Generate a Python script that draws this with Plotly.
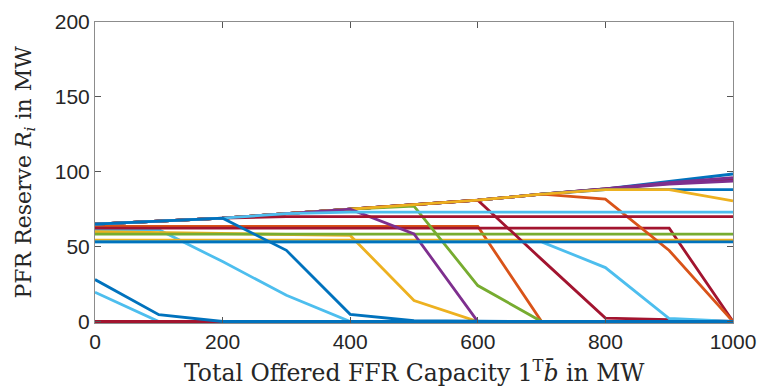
import plotly.graph_objects as go

x = [0, 100, 200, 300, 400, 500, 600, 700, 800, 900, 1000]

BLUE = "#0072BD"; ORANGE = "#D95319"; YELLOW = "#EDB120"; PURPLE = "#7E2F8E"
GREEN = "#77AC30"; LBLUE = "#4DBEEE"; DRED = "#A2142F"

# series values (MW), sampled at x
blue_top    = [65, 67, 69, 72, 75, 78, 81, 85, 88.5, 93.5, 98.5]
dred_top    = [65, 67, 69, 72, 75, 78, 81, 85, 88.5, 92.3, 95.0]
purple_top2 = [65, 67, 69, 72, 75, 78, 81, 85, 88.5, 91.8, 93.8]
purple_top  = [65, 67, 69, 72, 75, 78, 81, 85, 88.5, 92.8, 96.0]
blue_88     = [65, 67, 69, 72, 75, 78, 81, 85, 88, 88, 88]
orange_A    = [65, 67, 69, 72, 75, 78, 81, 85, 81.7, 47.4, 0]
dred_A      = [65, 67, 69, 72, 75, 78, 81, 41.5, 2.3, 1.2, 0]
green_B     = [65, 67, 69, 72, 75, 77, 24, 0, 0, 0, 0]
yellow_A    = [65, 67, 69, 72, 75, 78, 81, 85, 88, 88, 80.5]
purple_A    = [65, 67, 69, 72, 75, 58.5, 0, 0, 0, 0, 0]
dred_70     = [65, 67, 69, 70, 70, 70, 70, 70, 70, 70, 70]
lblue_73    = [65, 67, 69, 72, 73, 73, 73, 73, 73, 73, 73]
blue_A      = [65, 67, 69, 47.5, 4.8, 0.5, 0, 0, 0, 0, 0]

lblue_B     = [19.5, 0, 0, 0, 0, 0, 0, 0, 0, 0, 0]
dred_C      = [0, 0, 0, 0, 0, 0, 0, 0, 0, 0, 0]
blue_B      = [28, 4.5, 0, 0, 0, 0, 0, 0, 0, 0, 0]
lblue_C     = [53.2, 53.2, 53.2, 53.2, 53.2, 53.2, 53.2, 53.2, 36, 2, 0]
orange_B    = [63.5, 63.5, 63.5, 63.5, 63.5, 63.5, 63.5, 0, 0, 0, 0]
lblue_A     = [61.3, 61.3, 40, 17.5, 0, 0, 0, 0, 0, 0, 0]
dred_B      = [62.3, 62.3, 62.3, 62.3, 62.3, 62.3, 62.3, 62.3, 62.3, 62.3, 0]
yellow_B    = [60, 59.5, 59, 58.5, 57.5, 14, 0, 0, 0, 0, 0]
green_flat  = [58.3] * 11
yellow_flat = [54.3] * 11
blue_flat   = [53.2] * 11

xticks = [0, 200, 400, 600, 800, 1000]
yticks = [0, 50, 100, 150, 200]

series = [
    (lblue_B, LBLUE), (dred_C, DRED),
    (orange_B, ORANGE), (lblue_A, LBLUE), (dred_B, DRED), (yellow_B, YELLOW),
    (green_flat, GREEN), (yellow_flat, YELLOW),
    (blue_top, BLUE), (dred_top, DRED), (purple_top2, PURPLE), (purple_top, PURPLE),
    (blue_88, BLUE), (orange_A, ORANGE), (dred_A, DRED), (green_B, GREEN),
    (yellow_A, YELLOW), (purple_A, PURPLE), (dred_70, DRED), (lblue_73, LBLUE),
    (blue_B, BLUE), (lblue_C, LBLUE), (blue_flat, BLUE),
    (blue_A, BLUE),
]

fig = go.Figure()
for ys, c in series:
    fig.add_trace(go.Scatter(x=x, y=ys, mode="lines",
                             line=dict(color=c, width=2.8), showlegend=False,
                             hoverinfo="skip"))

axis_common = dict(showgrid=False, zeroline=False, ticks="inside", ticklen=6,
                   tickcolor="#555", linecolor="#8c8c8c", linewidth=1,
                   mirror="ticks", showline=True, automargin=False,
                   tickfont=dict(family="Liberation Sans, Arial", size=21, color="#262626"))

fig.update_layout(
    width=762, height=388,
    margin=dict(l=95, r=29, t=22, b=65),
    paper_bgcolor="white", plot_bgcolor="white",
    xaxis=dict(range=[0, 1000], tickvals=xticks, **axis_common),
    yaxis=dict(range=[-1, 200], tickvals=yticks, **axis_common),
    annotations=[
        dict(text="Total Offered FFR Capacity 1<sup>T</sup><i>b̄</i> in MW",
             xref="paper", yref="paper", x=0.5, y=0, yshift=-48, yanchor="middle",
             xanchor="center", showarrow=False,
             font=dict(family="DejaVu Serif, serif", size=23.5, color="#262626")),
        dict(text="PFR Reserve <i>R<sub>i</sub></i> in MW",
             xref="paper", yref="paper", x=0, xshift=-70, y=0.5, textangle=-90,
             xanchor="center", yanchor="middle", showarrow=False,
             font=dict(family="DejaVu Serif, serif", size=22, color="#262626")),
    ],
)

fig.write_html("out.html")
